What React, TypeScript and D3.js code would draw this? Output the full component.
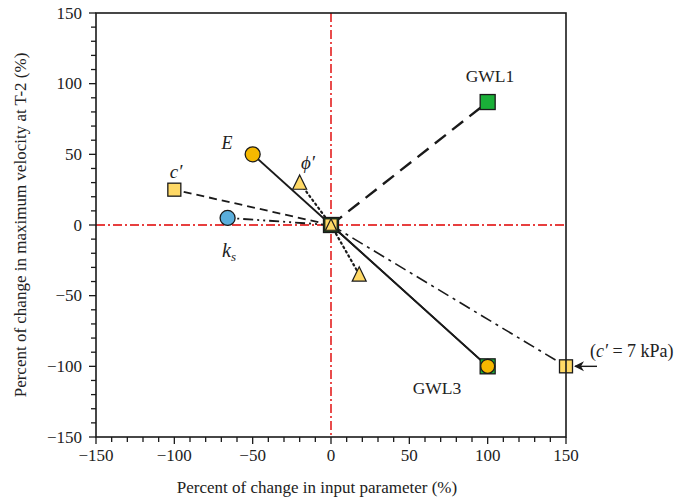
import React from "react";
import * as d3 from "d3";

const W = 688, H = 497;
const M = { left: 96, right: 566, top: 13, bottom: 437 };

const xTicks = [-150, -100, -50, 0, 50, 100, 150];
const yTicks = [-150, -100, -50, 0, 50, 100, 150];

// series: name, end point, line style
const seriesNames = ["E", "E+", "c'", "ks", "phi-", "phi+", "GWL1", "GWL3", "c7"];
const seriesX = [-50, 100, -100, -66, -20, 18, 100, 100, 150];
const seriesY = [50, -100, 25, 5, 30, -35, 87, -100, -100];
const seriesDash = ["", "", "8,5", "10,4,2,4,2,4", "1.5,3.5", "1.5,3.5", "14,8", "", "12,5,3,5"];
const seriesWidth = [1.8, 1.8, 1.8, 1.8, 2.2, 2.2, 2.4, 1.8, 1.6];

const C_ORANGE = "#F5B800";
const C_YELLOW = "#FFD966";
const C_GREEN = "#1AAF38";
const C_BLUE = "#5AAEDC";
const C_RED = "#E00000";
const STROKE = "#1a1a1a";

export default function App() {
  const x = d3.scaleLinear().domain([-150, 150]).range([M.left, M.right]);
  const y = d3.scaleLinear().domain([-150, 150]).range([M.bottom, M.top]);
  const minor = d3.range(-150, 151, 10);
  const font = "'Liberation Serif', 'Times New Roman', serif";
  const sq = (cx: number, cy: number, s: number, fill: string, key: string, sw = 1.3) => (
    <rect key={key} x={cx - s / 2} y={cy - s / 2} width={s} height={s} fill={fill} stroke={STROKE} strokeWidth={sw} />
  );
  const tri = (cx: number, cy: number, s: number, key: string) => {
    const h = s * 0.95;
    return (
      <path key={key} d={`M${cx},${cy - h / 2 - 1}L${cx + s / 2},${cy + h / 2}L${cx - s / 2},${cy + h / 2}Z`} fill={C_YELLOW} stroke={STROKE} strokeWidth={1.2} strokeLinejoin="miter" />
    );
  };
  const circ = (cx: number, cy: number, r: number, fill: string, key: string) => (
    <circle key={key} cx={cx} cy={cy} r={r} fill={fill} stroke={STROKE} strokeWidth={1.3} />
  );
  const line = d3.line<[number, number]>().x(d => x(d[0])).y(d => y(d[1]));
  const ox = x(0), oy = y(0);
  const fmt = (v: number) => (v < 0 ? "\u2212" + Math.abs(v) : String(v));

  return (
    <svg width={W} height={H} style={{ position: "absolute", left: 0, top: 0, background: "#fff" }} fontFamily={font}>
      {/* red reference lines */}
      <line x1={ox} x2={ox} y1={M.top} y2={M.bottom} stroke={C_RED} strokeWidth={1.4} strokeDasharray="9,3,2,3" />
      <line x1={M.left} x2={M.right} y1={oy} y2={oy} stroke={C_RED} strokeWidth={1.4} strokeDasharray="9,3,2,3" />

      {/* series lines */}
      {seriesNames.map((n, i) => (
        <path key={n} d={line([[0, 0], [seriesX[i], seriesY[i]]]) || ""} fill="none" stroke={STROKE}
          strokeWidth={seriesWidth[i]} strokeDasharray={seriesDash[i] || undefined}
          strokeLinecap={seriesDash[i].startsWith("1.5") ? "round" : "butt"} />
      ))}

      {/* markers */}
      {circ(x(seriesX[0]), y(seriesY[0]), 7.5, C_ORANGE, "mE")}
      {sq(x(seriesX[2]), y(seriesY[2]), 13, C_YELLOW, "mc")}
      {circ(x(seriesX[3]), y(seriesY[3]), 7.5, C_BLUE, "mks")}
      {tri(x(seriesX[4]), y(seriesY[4]), 14, "mp1")}
      {tri(x(seriesX[5]), y(seriesY[5]), 14, "mp2")}
      {sq(x(seriesX[6]), y(seriesY[6]), 15, C_GREEN, "mg1")}
      {sq(x(seriesX[7]), y(seriesY[7]), 15, C_GREEN, "mg3")}
      {circ(x(seriesX[1]), y(seriesY[1]), 7, C_ORANGE, "mE2")}
      {sq(x(seriesX[8]), y(seriesY[8]), 13, C_YELLOW, "mc7")}
      {/* origin stack */}
      {sq(ox, oy, 15, "#1d4d1d", "o1")}
      {sq(ox, oy, 12, C_YELLOW, "o2", 0.8)}
      {tri(ox, oy, 11, "o3")}

      {/* frame */}
      <rect x={M.left} y={M.top} width={M.right - M.left} height={M.bottom - M.top} fill="none" stroke={STROKE} strokeWidth={1.6} />

      {/* ticks */}
      {minor.map(v => (
        <g key={"t" + v}>
          <line x1={x(v)} x2={x(v)} y1={M.bottom} y2={M.bottom + (v % 50 === 0 ? 7 : 5)} stroke={STROKE} strokeWidth={1.3} />
          <line x1={M.left} x2={M.left - (v % 50 === 0 ? 7 : 5)} y1={y(v)} y2={y(v)} stroke={STROKE} strokeWidth={1.3} />
        </g>
      ))}
      {xTicks.map(v => (
        <text key={"xl" + v} x={x(v)} y={M.bottom + 24} textAnchor="middle" fontSize={17} fill="#222">
          {fmt(v)}
        </text>
      ))}
      {yTicks.map(v => (
        <text key={"yl" + v} x={M.left - 14} y={y(v) + 5.5} textAnchor="end" fontSize={17} fill="#222">
          {fmt(v)}
        </text>
      ))}
      <text x={317} y={493} textAnchor="middle" fontSize={17} fill="#222">
        Percent of change in input parameter (%)
      </text>
      <text transform={`translate(26,225) rotate(-90)`} textAnchor="middle" fontSize={17} fill="#222">
        Percent of change in maximum velocity at T-2 (%)
      </text>

      {/* labels */}
      <text x={490} y={82} textAnchor="middle" fontSize={17.5} fill="#222">GWL1</text>
      <text x={437} y={394} textAnchor="middle" fontSize={17.5} fill="#222">GWL3</text>
      <text x={227} y={149} textAnchor="middle" fontSize={18} fontStyle="italic" fill="#222">E</text>
      <text x={308} y={169} textAnchor="middle" fontSize={19} fontStyle="italic" fill="#222">ϕ′</text>
      <text x={176} y={178} textAnchor="middle" fontSize={19} fontStyle="italic" fill="#222">c′</text>
      <text x={229} y={257} textAnchor="middle" fontSize={20} fontStyle="italic" fill="#222">
        k<tspan fontSize={13} dy={4}>s</tspan>
      </text>
      <text x={590} y={357} fontSize={18} fill="#222">
        (<tspan fontStyle="italic">c′</tspan> = 7 kPa)
      </text>
      <line x1={597} x2={575} y1={y(-100)} y2={y(-100)} stroke={STROKE} strokeWidth={1.4} />
      <path d={`M${574},${y(-100)} L${584},${y(-100) - 5} L${581},${y(-100)} L${584},${y(-100) + 5} Z`} fill={STROKE} />
    </svg>
  );
}
